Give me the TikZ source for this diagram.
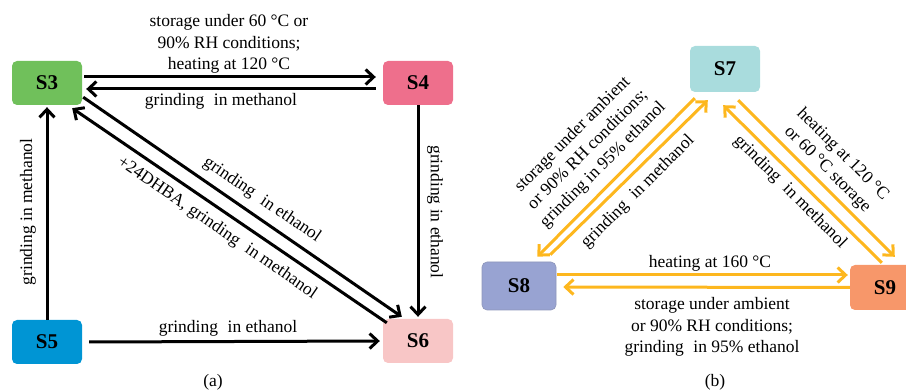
\documentclass[tikz,border=0pt]{standalone}
\usepackage{fontspec}
\setmainfont{Liberation Serif}
\usetikzlibrary{arrows.meta}
\definecolor{cS3}{HTML}{70C05B}
\definecolor{cS4}{HTML}{EE6F8C}
\definecolor{cS5}{HTML}{0095D4}
\definecolor{cS6}{HTML}{F8C6C6}
\definecolor{cS7}{HTML}{A9DCDD}
\definecolor{cS8}{HTML}{98A3D2}
\definecolor{cS9}{HTML}{F7976A}
\definecolor{orarr}{HTML}{FDB71E}
\newcommand{\gsp}{\hspace{0.3em} }
\begin{document}
\begin{tikzpicture}[x=1pt,y=-1pt,
  box/.style={rectangle,rounded corners=5pt,minimum width=70pt,minimum height=44pt,inner sep=0pt,font=\fontsize{21}{25}\selectfont\bfseries},
  lbl/.style={font=\fontsize{17.5}{21.5}\selectfont,align=center,inner sep=0pt},
  blk/.style={line width=3pt,-{Straight Barb[length=8pt,width=15pt]}},
  ora/.style={line width=3pt,orarr,-{Straight Barb[length=8pt,width=15pt]}}]
\useasboundingbox (0,0) rectangle (906,390);
\clip (0,0) rectangle (906,390);
% (a) nodes
\node[box,fill=cS3] (S3) at (47,83) {S3};
\node[box,fill=cS4] (S4) at (418,83) {S4};
\node[box,fill=cS5] (S5) at (47,342) {S5};
\node[box,fill=cS6] (S6) at (418,341) {S6};
% (b) nodes
\node[box,fill=cS7,minimum height=46pt] (S7) at (725,69) {S7};
\node[box,fill=cS8,draw=cS8!85!black!90,line width=0.6pt,minimum width=74pt,minimum height=48pt] (S8) at (519,286) {S8};
\node[box,fill=cS9,minimum height=45pt] (S9) at (885,287.5) {S9};
% (a) connectors
\draw[blk] ([xshift=2pt,yshift=6pt]S3.east) -- ([xshift=-7pt,yshift=6pt]S4.west);
\draw[blk] ([xshift=-7pt,yshift=-6pt]S4.west) -- ([xshift=4pt,yshift=-6pt]S3.east);
\draw[blk] ([xshift=1pt,yshift=8pt]S3.south east) -- ([xshift=19pt,yshift=2pt]S6.north west);
\draw[blk] ([xshift=4pt,yshift=-4pt]S6.north west) -- ([xshift=-10pt,yshift=-3pt]S3.south east);
\draw[blk] (S5.north) -- ([yshift=-2pt]S3.south);
\draw[blk] (S4.south) -- ([yshift=2pt]S6.north);
\draw[blk] ([xshift=7pt]S5.east) -- ([xshift=-3pt]S6.west);
% (b) connectors
\draw[ora] ([xshift=1pt,yshift=11pt]S8.east) -- ([xshift=-2pt,yshift=12.5pt]S9.west);
\draw[ora] (S9.west) -- ([xshift=7pt,yshift=-1pt]S8.east);
\draw[ora] ([xshift=5pt,yshift=-6pt]S7.south west) -- ([xshift=-19pt,yshift=5pt]S8.north east);
\draw[ora] ([xshift=-6pt,yshift=7pt]S8.north east) -- ([xshift=18pt,yshift=-8pt]S7.south west);
\draw[ora] ([xshift=32pt,yshift=2pt]S9.north west) -- ([xshift=-37pt,yshift=-13pt]S7.south east);
\draw[ora] ([xshift=-22pt,yshift=-8pt]S7.south east) -- ([xshift=45pt,yshift=8pt]S9.north west);
% (a) labels
\node[lbl] (l1) at (229,44) {storage under 60 °C or\\90\% RH conditions;\\heating at 120 °C};
\node[lbl] (l2) at (221,101) {grinding\gsp in methanol};
\node[lbl] (l3) at (228,328) {grinding\gsp in ethanol};
\node[lbl,rotate=90] (l4) at (28,212) {grinding in methanol};
\node[lbl,rotate=-90] (l5) at (435,212) {grinding in ethanol};
\node[lbl,rotate=-34.5] (l6) at (262,200) {grinding\gsp in ethanol};
\node[lbl,rotate=-34.5] (l7) at (217,228) {+24DHBA, grinding\gsp in methanol};
\node[lbl] (la) at (213,382) {(a)};
% (b) labels
\node[lbl] (m1) at (710,263) {heating at 160 °C};
\node[lbl] (m2) at (712,327) {storage under ambient\\or 90\% RH conditions;\\grinding\gsp in 95\% ethanol};
\node[lbl,rotate=45] (m3) at (588,150) {storage under ambient\\or 90\% RH conditions;\\grinding in 95\% ethanol};
\node[lbl,rotate=45] (m4) at (638,192) {grinding\gsp in methanol};
\node[lbl,rotate=-45] (m5) at (835,162) {heating at 120 °C\\or 60 °C storage};
\node[lbl,rotate=-45] (m6) at (790,192) {grinding\gsp in methanol};
\node[lbl] (lb) at (715,382) {(b)};
\end{tikzpicture}
\end{document}
